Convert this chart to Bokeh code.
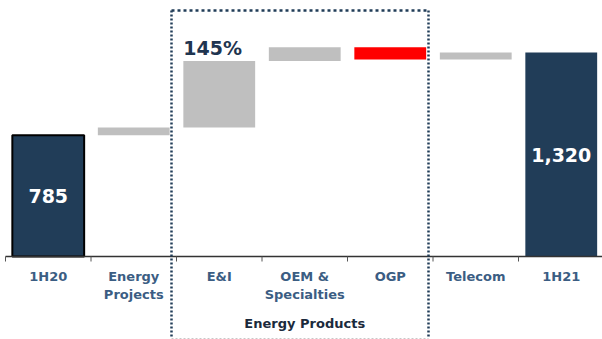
from bokeh.plotting import figure
from bokeh.models import ColumnDataSource, Range1d
from bokeh.core.properties import value
from bokeh.embed import file_html
from bokeh.resources import INLINE

# ---- data ----
categories = ["1H20", "Energy\nProjects", "E&I", "OEM &\nSpecialties", "OGP", "Telecom", "1H21"]
start_total = 785
deltas = [50, 430, 90, -80, 45]
end_total = 1320
value_labels = ["785", "1,320"]
growth_label = "145%"
group_label = "Energy Products"

# ---- styles ----
NAVY = "#213d58"
GRAY = "#bfbfbf"
RED = "#ff0000"
LABEL_BLUE = "#3b5d83"
FONT = "DejaVu Sans"

# ---- layout helpers (pixel mapping) ----
W, H = 602, 339
BASE_PX = 256.0
SCALE = 0.1545       # px per unit
CAT_W = 85.5         # px per category
X0_PX = 5.0          # left edge of first category


def py(px):
    return (BASE_PX - px) / SCALE


def px_x(px):
    return -0.5 + (px - X0_PX) / CAT_W


# ---- waterfall geometry from data ----
xs = list(range(len(categories)))
bottoms, tops, colors = [0], [start_total], [NAVY]
running = start_total
for d in deltas:
    new = running + d
    bottoms.append(min(running, new))
    tops.append(max(running, new))
    colors.append(RED if d < 0 else GRAY)
    running = new
bottoms.append(0)
tops.append(end_total)
colors.append(NAVY)

p = figure(width=W, height=H, output_backend="svg", toolbar_location=None,
           x_range=Range1d(px_x(0), px_x(W)), y_range=Range1d(py(H), py(0)),
           min_border=0, x_axis_location=None, y_axis_location=None,
           outline_line_color=None)
p.grid.visible = False

src = ColumnDataSource(dict(x=xs, bottom=bottoms, top=tops, color=colors))
p.vbar(x="x", bottom="bottom", top="top", width=0.84, fill_color="color",
       line_color=None, source=src)
# black outline on first total bar
p.vbar(x=[xs[0]], bottom=[0], top=[start_total], width=0.84, fill_color=None,
       line_color="black", line_width=2)

# category axis line with ticks at category boundaries
bounds = [i - 0.5 for i in range(len(categories) + 1)]
p.segment(x0=[bounds[0]], y0=[0], x1=[px_x(W)], y1=[0], line_color="#333333", line_width=1.5)
p.segment(x0=bounds, y0=[0] * len(bounds), x1=bounds, y1=[py(BASE_PX + 5)] * len(bounds),
          line_color="#555555", line_width=1)

# category labels
p.text(x=xs, y=[py(268)] * len(xs), text=categories, text_align="center", text_baseline="top",
       text_font=value(FONT), text_font_style="bold", text_font_size="13px",
       text_color=LABEL_BLUE, text_line_height=1.2)

# value labels inside total bars
p.text(x=[xs[0], xs[-1]], y=[start_total / 2, end_total / 2], text=value_labels,
       text_align="center", text_baseline="middle", text_font=value(FONT),
       text_font_style="bold", text_font_size="19px", text_color="white")

# growth label above E&I
ei = categories.index("E&I")
p.text(x=[ei - 0.42], y=[py(47)], text=[growth_label], text_align="left",
       text_baseline="middle", text_font=value(FONT), text_font_style="bold",
       text_font_size="19px", text_color="#1f3550")

# Energy Products group box
ogp = categories.index("OGP")
left = ei - 0.5 - 5 / CAT_W
right = ogp + 0.5 - 4.5 / CAT_W
top, bot = py(10), py(338)
p.segment(x0=[left, right], y0=[top, top], x1=[left, right], y1=[bot, bot],
          line_color=NAVY, line_width=2.5, line_dash="2 2")
p.segment(x0=[left], y0=[top], x1=[right], y1=[top], line_color=NAVY,
          line_width=2.5, line_dash="3 3")
p.segment(x0=[left], y0=[bot], x1=[right], y1=[bot], line_color="#c8c8c8",
          line_width=1, line_dash="2 2")
p.text(x=[(ei + ogp) / 2], y=[py(323)], text=[group_label], text_align="center",
       text_baseline="middle", text_font=value(FONT), text_font_style="bold",
       text_font_size="13px", text_color="#1b2a3c")

open("out.html", "w").write(file_html(p, INLINE))
